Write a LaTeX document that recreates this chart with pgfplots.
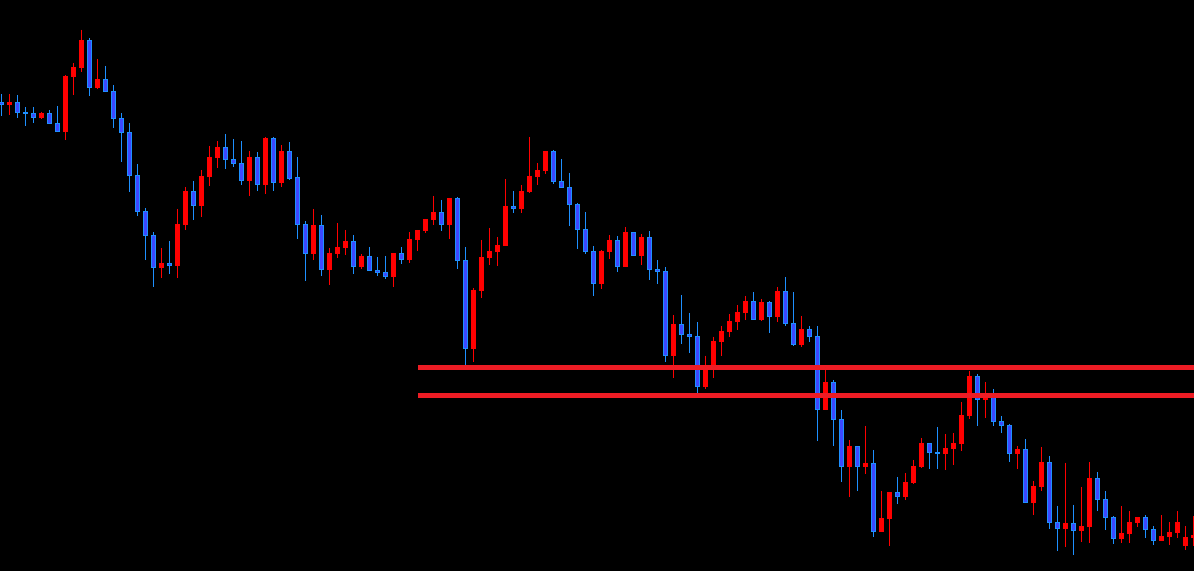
\documentclass[border=0pt]{standalone}
\usepackage{pgfplots}
\usepackage{pgfplotstable}
\pgfplotsset{compat=1.18}
\definecolor{upred}{RGB}{255,0,0}
\definecolor{dnedge}{RGB}{30,144,255}
\definecolor{dnfill}{RGB}{60,72,255}
\definecolor{lvl}{RGB}{237,28,36}
% pixel-row coordinates (y grows downwards): body top, body bottom, wick top, wick bottom
\pgfplotstableread{
x bt bb wt wb
1 102 104.7 94 115
5 113 118 112 119
8 76 131.7 75.3 140
9 67 77 63 95
10 40 68 29.7 72
12 79 88 59 89
20 263 267.7 248 277.7
22 224 265.7 209 277.7
23 191 224.7 187 229.7
25 176 205.7 170 216.7
26 157 176.7 146 185.7
27 147 157.7 141 167.7
31 157 180.7 151 195.7
33 138 184.7 137 193.7
35 151 182.7 145 186.7
39 225 253.7 209 259.7
41 253 269.7 248 284.7
42 247 253.7 223 257.7
43 241 247.7 230 254.7
45 256 266.7 254 268.7
49 253 276.7 253 286.7
51 239 259.7 232 262.7
52 230 239.7 230 250.7
53 219 230.7 219 233
54 212 219.7 196 224.7
56 198 224.7 198 238.7
59 290 348.7 288 361.7
60 257 290.7 240 297.7
61 251 257.7 228 264.7
62 245 251.7 237 265.7
63 206 245.7 179 245.7
65 191 208.7 185 212.7
66 176 191.7 137 192.7
67 170 176.7 163 184.7
68 151 170.7 151 173.7
75 251 283.7 250 288.7
76 240 251.7 235 258.7
78 232 266.7 227 266.7
80 237 255.7 234 264.7
84 324 355.7 315 377.7
88 368 386.7 355.7 388.7
89 341 368 336.7 377.7
90 331 341.7 326 356
91 321 331.7 314 336.7
92 312 321.7 305 329.7
93 301 312.7 296 319.7
95 302 320.3 299 321
97 291 316.7 287 321.7
100 329 345 316 346.7
103 382 409.7 368 409.7
106 446 466.7 440 496.7
108 463 466.7 426 473.7
110 518 531.7 491 531.7
111 492 518.7 492 545.7
113 482 496.7 473 499.7
114 466 482.7 460 483.7
115 443 466.7 438 467.7
118 448 453.7 434 469.7
119 443 448.7 433 464.7
120 415 443.7 402 450.7
121 376 415.7 371 418.7
123 395 399.7 382 417.7
127 449 453.7 446 468.7
129 486 502.7 481 514.7
130 462 486.7 447 490.7
133 523 528.7 462.7 546.7
135 526 530.7 487 541.7
136 478 526.7 462 542.7
140 533 538.7 506 542.7
141 522 533.7 511 542.7
142 517 522.7 517 526.7
145 536 540.7 515 540.7
146 532 536.7 522 544.7
147 522 532.7 511 537.7
148 537 545.7 526 549.7
149 535 537.7 516 545.7
}\upbars
\pgfplotstableread{
x bt bb wt wb
0 102 104.7 94 116
2 102 112.7 95 117.7
3 112 113.7 107 126
4 113.3 117.7 107 123
6 113.3 123.7 110 123.7
7 123.3 131.7 106 131.7
11 40.3 87.7 38 96
13 79.3 91.7 66 91.7
14 91 119 85 128
15 118 132.7 113 162
16 132 175.7 123 192
17 175 211.7 164 216
18 211 235.7 208 260
19 235 267.7 232 286.7
21 263 265.7 241 273.7
24 191 205.7 181 219.7
28 147 159.7 134 168.7
29 159 163.7 139 166.7
30 163 180.7 141 184.7
32 157 184.7 152 190.7
34 138 182.7 137 190.7
36 151 178.7 142 179.7
37 177 224.7 157 238.7
38 224 253.7 221 280.7
40 225 269.7 215 275.7
44 241 266.7 235 273.7
46 256 270.7 247 270.7
47 270 272.7 257 275.7
48 272 276.7 256 278.7
50 253 259.7 247 263.7
55 212 224.7 200 230.7
57 198 260.7 197 268.7
58 260 348.7 247 366.7
64 206 208.7 191 212.7
69 151 181.7 150 183.7
70 181 187.7 159 187.7
71 187 204.7 173 225.7
72 204 229.7 203 248.7
73 229 251.7 212 253.7
74 251 283.7 246 295.7
77 240 266.7 236 271.7
79 232 255.7 232 255.7
81 237 269.7 231 279.7
82 269 271.7 260 283.7
83 271 355.7 267 361.7
85 324 334.7 295 343.7
86 334 336.7 313 352.7
87 336 386.7 322 392.7
94 301 319.7 292 319.7
96 302 316.7 301 332.7
98 291 323.7 277 325.7
99 323 345 292 345.7
101 329 336.7 326 341.7
102 336 409.7 326 440.7
104 382 419.7 380 445.7
105 419 466.7 410 481.7
107 446 466.7 446 490.7
109 463 531.7 450 536.7
112 492 496.7 477 503.7
116 443 452.7 443 468.7
117 452 453.7 427 468.7
122 376 399.7 374 425.7
124 397 421.7 389 425.7
125 421 425.7 416 432.7
126 425 453.7 424 461.7
128 449 502.7 439 502.7
131 462 522.7 456 528.7
132 522 528.7 505.7 550.7
134 523 530.7 504.7 554.7
137 478 499.7 472 510.7
138 499 517.7 491 529.7
139 517 538.7 516 543.7
143 517 529.7 515 537.7
144 529 540.7 526 544.7
}\dnbars

\pgfplotsset{
  candle/.style n args={2}{only marks, mark=none, mark size=0pt,
    mark options={draw=none, fill=none}, forget plot,
    error bars/.cd, y dir=plus, y explicit, error mark=none,
    error bar style={line width=#1, draw=#2, line cap=butt}},
}

\begin{document}
\begin{tikzpicture}
\begin{axis}[
  x=4pt, y=0.5pt,
  xmin=-0.1625, xmax=149.0875, ymin=0, ymax=571,
  y dir=reverse,
  axis background/.style={fill=black},
  axis line style={draw=none},
  ticks=none,
  clip=true,
]
% wicks
\addplot[candle={0.5pt}{upred}]
  table[x=x, y=wt, y error plus expr={\thisrow{wb}-\thisrow{wt}}] {\upbars};
\addplot[candle={0.5pt}{dnedge}]
  table[x=x, y=wt, y error plus expr={\thisrow{wb}-\thisrow{wt}}] {\dnbars};
% bodies
\addplot[candle={2.5pt}{upred}]
  table[x=x, y=bt, y error plus expr={max(\thisrow{bb}-\thisrow{bt},1.6)}] {\upbars};
\addplot[candle={2.5pt}{dnedge}]
  table[x=x, y=bt, y error plus expr={max(\thisrow{bb}-\thisrow{bt},1.6)}] {\dnbars};
\addplot[candle={1.5pt}{dnfill}]
  table[x=x, y expr={\thisrow{bt}+1}, y error plus expr={max(\thisrow{bb}-\thisrow{bt}-2,0)}] {\dnbars};
% levels
\addplot[lvl, line width=2.3pt, mark=none] coordinates {(52.09,367.3) (150,367.3)};
\addplot[lvl, line width=2.3pt, mark=none] coordinates {(52.09,395.3) (150,395.3)};
\end{axis}
\pgfresetboundingbox
\path[use as bounding box] (current axis.south west) rectangle (current axis.north east);
\end{tikzpicture}
\end{document}
